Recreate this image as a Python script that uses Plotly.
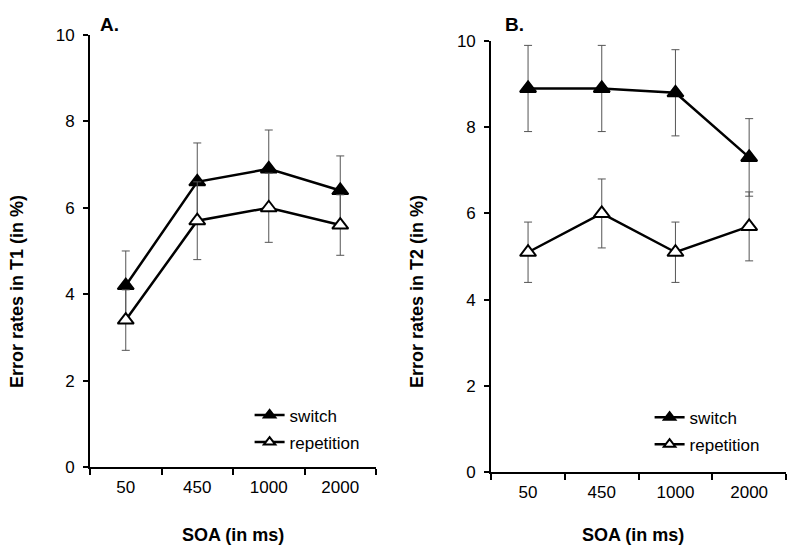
import plotly.graph_objects as go

soa = ["50", "450", "1000", "2000"]

t1_switch = [4.2, 6.6, 6.9, 6.4]
t1_switch_err = [0.8, 0.9, 0.9, 0.8]
t1_rep = [3.4, 5.7, 6.0, 5.6]
t1_rep_err = [0.7, 0.9, 0.8, 0.7]

t2_switch = [8.9, 8.9, 8.8, 7.3]
t2_switch_err = [1.0, 1.0, 1.0, 0.9]
t2_rep = [5.1, 6.0, 5.1, 5.7]
t2_rep_err = [0.7, 0.8, 0.7, 0.8]

y_ticks = [0, 2, 4, 6, 8, 10]

FONT = "Liberation Sans, Arial, sans-serif"
ERRC = "#555555"

fig = go.Figure()


def add(x, y, err, name, fill, xa, ya, legend):
    fig.add_trace(go.Scatter(
        x=x, y=y, name=name, mode="lines+markers",
        xaxis=xa, yaxis=ya, showlegend=False,
        line=dict(color="black", width=2.5),
        marker=dict(symbol="triangle-up", size=14, color=fill,
                    line=dict(color="black", width=2)),
        error_y=dict(type="data", array=err, visible=True,
                     color=ERRC, thickness=1, width=4),
    ))
    # legend entry (smaller symbol, as in the original legend)
    fig.add_trace(go.Scatter(
        x=[None], y=[None], name=name, mode="lines+markers",
        xaxis=xa, yaxis=ya, legend=legend, showlegend=True,
        legendgroup=name + legend,
        line=dict(color="black", width=2.5),
        marker=dict(symbol="triangle-up", size=10, color=fill,
                    line=dict(color="black", width=2)),
    ))


add(soa, t1_switch, t1_switch_err, "switch", "black", "x", "y", "legend")
add(soa, t1_rep, t1_rep_err, "repetition", "white", "x", "y", "legend")
add(soa, t2_switch, t2_switch_err, "switch", "black", "x2", "y2", "legend2")
add(soa, t2_rep, t2_rep_err, "repetition", "white", "x2", "y2", "legend2")

axis_common = dict(showgrid=False, zeroline=False, showline=True,
                   linecolor="black", linewidth=2, ticks="outside",
                   ticklen=5, tickwidth=2, tickcolor="black",
                   automargin=False,
                   tickfont=dict(family=FONT, size=17, color="black"))

xcommon = dict(axis_common, type="category", range=[-0.5, 3.5],
               categoryorder="array", categoryarray=soa,
               tickson="boundaries", ticklen=6, ticklabelstandoff=4)
ycommon = dict(axis_common, range=[0, 10], tickvals=y_ticks,
               ticklabelstandoff=5)

fig.update_layout(
    width=800, height=555,
    margin=dict(l=0, r=0, t=0, b=0),
    paper_bgcolor="white", plot_bgcolor="white",
    font=dict(family=FONT, size=16, color="black"),
    xaxis=dict(xcommon, domain=[0.1125, 0.47], anchor="y"),
    yaxis=dict(ycommon, domain=[0.1586, 0.937], anchor="x"),
    xaxis2=dict(xcommon, domain=[0.614, 0.9825], anchor="y2"),
    yaxis2=dict(ycommon, domain=[0.1495, 0.926], anchor="x2"),
    legend=dict(x=0.312, y=0.284, xanchor="left", yanchor="top",
                bgcolor="rgba(0,0,0,0)", tracegroupgap=2,
                font=dict(family=FONT, size=17, color="black")),
    legend2=dict(x=0.812, y=0.28, xanchor="left", yanchor="top",
                 bgcolor="rgba(0,0,0,0)", tracegroupgap=2,
                 font=dict(family=FONT, size=17, color="black")),
    annotations=[
        dict(text="<b>A.</b>", x=98 / 800, y=1 - 24 / 555, xref="paper", yref="paper",
             xanchor="left", yanchor="middle", showarrow=False,
             font=dict(family=FONT, size=19, color="black")),
        dict(text="<b>B.</b>", x=503 / 800, y=1 - 24 / 555, xref="paper", yref="paper",
             xanchor="left", yanchor="middle", showarrow=False,
             font=dict(family=FONT, size=19, color="black")),
        dict(text="<b>Error rates in T1 (in %)</b>", x=17 / 800, y=1 - 292 / 555,
             xref="paper", yref="paper", textangle=-90, showarrow=False,
             xanchor="center", yanchor="middle",
             font=dict(family=FONT, size=18, color="black")),
        dict(text="<b>Error rates in T2 (in %)</b>", x=417 / 800, y=1 - 292 / 555,
             xref="paper", yref="paper", textangle=-90, showarrow=False,
             xanchor="center", yanchor="middle",
             font=dict(family=FONT, size=18, color="black")),
        dict(text="<b>SOA (in ms)</b>", x=233 / 800, y=1 - 535 / 555,
             xref="paper", yref="paper", showarrow=False,
             xanchor="center", yanchor="middle",
             font=dict(family=FONT, size=18, color="black")),
        dict(text="<b>SOA (in ms)</b>", x=633 / 800, y=1 - 535 / 555,
             xref="paper", yref="paper", showarrow=False,
             xanchor="center", yanchor="middle",
             font=dict(family=FONT, size=18, color="black")),
    ],
)

fig.write_html("out.html")
